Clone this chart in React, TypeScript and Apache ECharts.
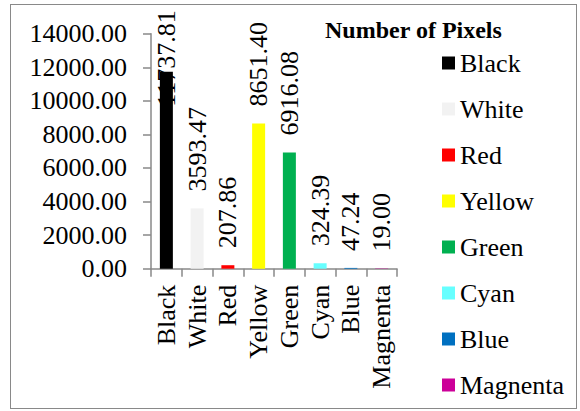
import React, { useEffect, useRef } from "react";
import * as echarts from "echarts";

const categories = ["Black", "White", "Red", "Yellow", "Green", "Cyan", "Blue", "Magnenta"];
const values = [11737.81, 3593.47, 207.86, 8651.4, 6916.08, 324.39, 47.24, 19.0];
const colors = ["#000000", "#f2f2f2", "#ff0000", "#ffff00", "#00b050", "#66ffff", "#0070c0", "#cc0099"];
const yTicks = { min: 0, max: 14000, interval: 2000 };
const titleText = "Number of Pixels";

const FONT = "Liberation Serif";
const rich = {
  f: { fontFamily: FONT, fontSize: 26, color: "#000000" },
  t: { fontFamily: FONT, fontSize: 24, fontWeight: "bold", color: "#000000" },
};

export default function App() {
  const ref = useRef<HTMLDivElement>(null);
  useEffect(() => {
    if (!ref.current) return;
    const chart = echarts.init(ref.current, null, { renderer: "svg" });
    const series = categories.map((name, i) => ({
      name,
      type: "bar",
      stack: "all",
      barWidth: 13,
      itemStyle: { color: colors[i] },
      data: categories.map((_, j) =>
        j === i
          ? i === 0
            ? { value: values[i], label: { distance: -35 } }
            : values[i]
          : "-"
      ),
      label: {
        show: true,
        position: "top",
        rotate: 90,
        align: "left",
        verticalAlign: "middle",
        distance: 17,
        fontSize: 26,
        fontFamily: FONT,
        color: "#000000",
        rich,
        formatter: (p: any) => "{f|" + Number(p.value).toFixed(2) + "}",
      },
    }));
    chart.setOption({
      animation: false,
      title: {
        text: "{t|" + titleText + "}",
        left: 325,
        top: 18,
        padding: 0,
        textStyle: { fontSize: 24, fontFamily: FONT, fontWeight: "bold", color: "#000000", rich },
      },
      legend: {
        orient: "vertical",
        left: 442,
        top: 50,
        padding: 0,
        itemWidth: 13,
        itemHeight: 13,
        itemGap: 20,
        icon: "rect",
        data: categories,
        formatter: (name: string) => "{f|" + name + "}",
        textStyle: { fontSize: 26, fontFamily: FONT, color: "#000000", rich },
      },
      grid: { left: 151, top: 33.7, width: 246, height: 235 },
      xAxis: {
        type: "category",
        data: categories,
        axisLine: { show: true, lineStyle: { color: "#898989", width: 1.5 } },
        axisTick: { show: true, length: 8, alignWithLabel: false, lineStyle: { color: "#898989", width: 1.5 } },
        axisLabel: {
          fontSize: 26,
          fontFamily: FONT,
          rotate: 90,
          margin: 16,
          interval: 0,
          color: "#000000",
          rich,
          formatter: (v: string) => "{f|" + v + "}",
        },
      },
      yAxis: {
        type: "value",
        min: yTicks.min,
        max: yTicks.max,
        interval: yTicks.interval,
        splitLine: { show: false },
        axisLine: { show: true, lineStyle: { color: "#898989", width: 1.5 } },
        axisTick: { show: true, length: 8, lineStyle: { color: "#898989", width: 1.5 } },
        axisLabel: {
          fontSize: 26,
          fontFamily: FONT,
          margin: 24,
          color: "#000000",
          rich,
          formatter: (v: number) => "{f|" + v.toFixed(2) + "}",
        },
      },
      series,
    });
    return () => chart.dispose();
  }, []);
  return (
    <div style={{ position: "fixed", left: 0, top: 0, width: 580, height: 411, background: "#fff" }}>
      <div ref={ref} style={{ position: "absolute", left: 0, top: 0, width: 580, height: 411 }} />
      <div
        style={{
          position: "absolute",
          left: 10,
          top: 4,
          width: 567,
          height: 405,
          border: "1.5px solid #898989",
          boxSizing: "border-box",
          pointerEvents: "none",
        }}
      />
    </div>
  );
}
